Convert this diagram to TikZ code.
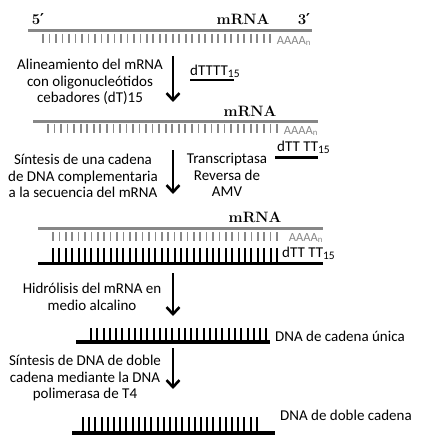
\documentclass[tikz,border=0pt]{standalone}
\usepackage{fontspec}
\setmainfont{Carlito}
\newfontfamily\serifb{Latin Modern Roman}
\newfontfamily\primefont{DejaVu Serif}
\usetikzlibrary{arrows.meta}
\definecolor{rna}{RGB}{135,135,135}
\tikzset{
  lbl/.style={font=\fontsize{15}{16.8}\selectfont, align=center, inner sep=0pt},
  rnalbl/.style={font=\serifb\bfseries\fontsize{15}{15}\selectfont, inner sep=0pt},
  rnaline/.style={rna, line width=3pt},
  rnatick/.style={rna, line width=1.7pt},
  dnaline/.style={black, line width=3.4pt},
  dnatick/.style={black, line width=2pt},
  polya/.style={rna, font=\fontsize{12.5}{12.5}\selectfont, inner sep=0pt},
  primer/.style={font=\fontsize{15}{15}\selectfont, inner sep=0pt},
  steparrow/.style={line width=2.8pt, -{Straight Barb[length=7pt,width=13pt,line width=2.6pt]}},
}
\newcommand{\fifteen}{\raisebox{-2pt}{\fontsize{11.5}{11.5}\selectfont 15}}
\newcommand{\primemark}{{\primefont\bfseries ′}}
\begin{document}
\begin{tikzpicture}[x=1pt,y=-1pt]
\useasboundingbox (0,0) rectangle (423,441);
% ---------- strand 1
\draw[rnaline] (28,31) -- (312,31);
\foreach \i in {0,...,35} \draw[rnatick] ({43+\i*6.49},34) -- ({43+\i*6.49},43);
\node[rnalbl] (p5) at (38,19) {5\primemark};
\node[rnalbl] (m1) at (243,19) {mRNA};
\node[rnalbl] (p3) at (304,19) {3\primemark};
\node[polya] (a1) at (294,41) {AAAA\textsubscript{n}};
% ---------- arrow 1
\coordinate (s1) at (173,56);
\coordinate (e1) at (173,102);
\draw[steparrow] (s1) -- (e1);
\node[lbl] (t1) at (90,82) {Alineamiento del mRNA\\con oligonucleótidos\\cebadores (dT)15};
\node[primer, anchor=south west] (d1) at (190,78) {dTTTT\fifteen};
\draw[line width=2.6pt] (190,80) -- (234,80);
% ---------- strand 2
\node[rnalbl] (m2) at (250,111) {mRNA};
\draw[rnaline] (33,121) -- (318,121);
\foreach \i in {0,...,35} \draw[rnatick] ({48+\i*6.54},124) -- ({48+\i*6.54},133);
\node[polya] (a2) at (301,131) {AAAA\textsubscript{n}};
\node[primer, anchor=south west] (d2) at (277,154) {dTT TT\fifteen};
\draw[line width=3pt] (275,157) -- (318,157);
% ---------- arrow 2
\coordinate (s2) at (173,150);
\coordinate (e2) at (173,194);
\draw[steparrow] (s2) -- (e2);
\node[lbl] (t2) at (83,176) {Síntesis de una cadena\\de DNA complementaria\\a la secuencia del mRNA};
\node[lbl] (t2b) at (227,175) {Transcriptasa\\Reversa de\\AMV};
% ---------- strand 3 (hybrid)
\node[rnalbl] (m3) at (255,217) {mRNA};
\draw[rnaline] (38,228) -- (323,228);
\foreach \i in {0,...,35} \draw[rnatick] ({53+\i*6.4},232) -- ({53+\i*6.4},241);
\node[polya] (a3) at (306,238) {AAAA\textsubscript{n}};
\foreach \i in {0,...,35} \draw[dnatick] ({53+\i*6.4},248) -- ({53+\i*6.4},262);
\node[primer, anchor=south west] (d3) at (282,260) {dTT TT\fifteen};
\draw[dnaline] (38,263.5) -- (323,263.5);
% ---------- arrow 3
\coordinate (s3) at (173,273);
\coordinate (e3) at (173,316);
\draw[steparrow] (s3) -- (e3);
\node[lbl] (t3) at (92,297) {Hidrólisis del mRNA en\\medio alcalino};
% ---------- single strand
\foreach \i in {0,...,28} \draw[dnatick] ({91+\i*6.26},328) -- ({91+\i*6.26},341);
\draw[dnaline] (76,342) -- (270,342);
\node[lbl, anchor=west] (t4) at (275,336) {DNA de cadena única};
% ---------- arrow 4
\coordinate (s4) at (173,348);
\coordinate (e4) at (173,389);
\draw[steparrow] (s4) -- (e4);
\node[lbl] (t5) at (85,378) {Síntesis de DNA de doble\\cadena mediante la DNA\\polimerasa de T4};
% ---------- double strand
\foreach \i in {0,...,28} \draw[dnatick] ({83+\i*6.21},417) -- ({83+\i*6.21},431);
\draw[dnaline] (72,433) -- (275,433);
\node[lbl, anchor=west] (t6) at (280,415) {DNA de doble cadena};
\end{tikzpicture}
\end{document}
